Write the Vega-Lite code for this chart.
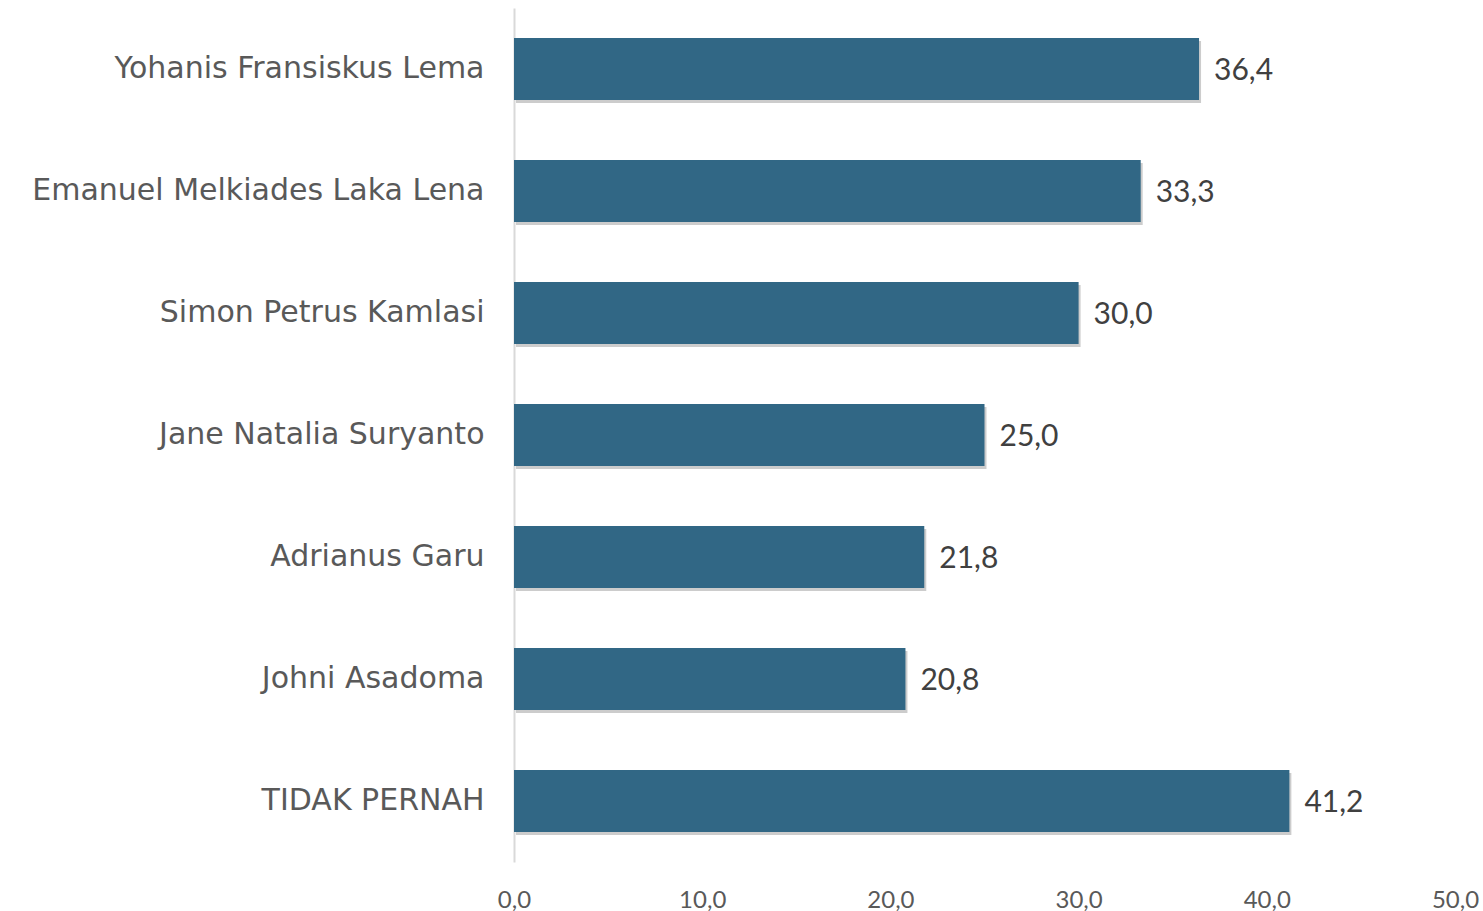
{
  "$schema": "https://vega.github.io/schema/vega-lite/v6.json",
  "autosize": {"type": "none"},
  "width": 941,
  "height": 854,
  "padding": {"left": 514, "top": 8, "right": 28, "bottom": 49},
  "background": "white",
  "config": {
    "view": {"stroke": null},
    "locale": {"number": {"decimal": ",", "thousands": ".", "grouping": [3], "currency": ["", ""]}}
  },
  "data": {
    "values": [
      {"nama": "Yohanis Fransiskus Lema", "nilai": 36.4},
      {"nama": "Emanuel Melkiades Laka Lena", "nilai": 33.3},
      {"nama": "Simon Petrus Kamlasi", "nilai": 30.0},
      {"nama": "Jane Natalia Suryanto", "nilai": 25.0},
      {"nama": "Adrianus Garu", "nilai": 21.8},
      {"nama": "Johni Asadoma", "nilai": 20.8},
      {"nama": "TIDAK PERNAH", "nilai": 41.2}
    ]
  },
  "encoding": {
    "y": {
      "field": "nama", "type": "nominal", "sort": null,
      "scale": {"paddingInner": 0.492, "paddingOuter": 0.246},
      "axis": {
        "title": null, "ticks": false, "domainColor": "#d9d9d9", "domainWidth": 2,
        "labelFont": "DejaVu Sans", "labelFontSize": 30, "labelColor": "#595959",
        "labelPadding": 30, "labelLimit": 600
      }
    },
    "x": {
      "field": "nilai", "type": "quantitative",
      "scale": {"domain": [0, 50], "nice": false},
      "axis": {
        "title": null, "values": [0, 10, 20, 30, 40, 50], "format": ".1f",
        "domain": false, "ticks": false, "grid": false,
        "labelFont": "Lato", "labelFontSize": 24, "labelColor": "#595959",
        "labelPadding": 26, "labelFlush": false
      }
    }
  },
  "layer": [
    {"mark": {"type": "bar", "color": "#000000", "opacity": 0.2, "xOffset": 2, "yOffset": 3}},
    {"mark": {"type": "bar", "color": "#316785"}},
    {
      "mark": {"type": "text", "align": "left", "baseline": "middle", "dx": 15, "dy": 2, "font": "Lato", "fontSize": 30, "color": "#404040"},
      "encoding": {"text": {"field": "nilai", "type": "quantitative", "format": ".1f"}}
    }
  ]
}
